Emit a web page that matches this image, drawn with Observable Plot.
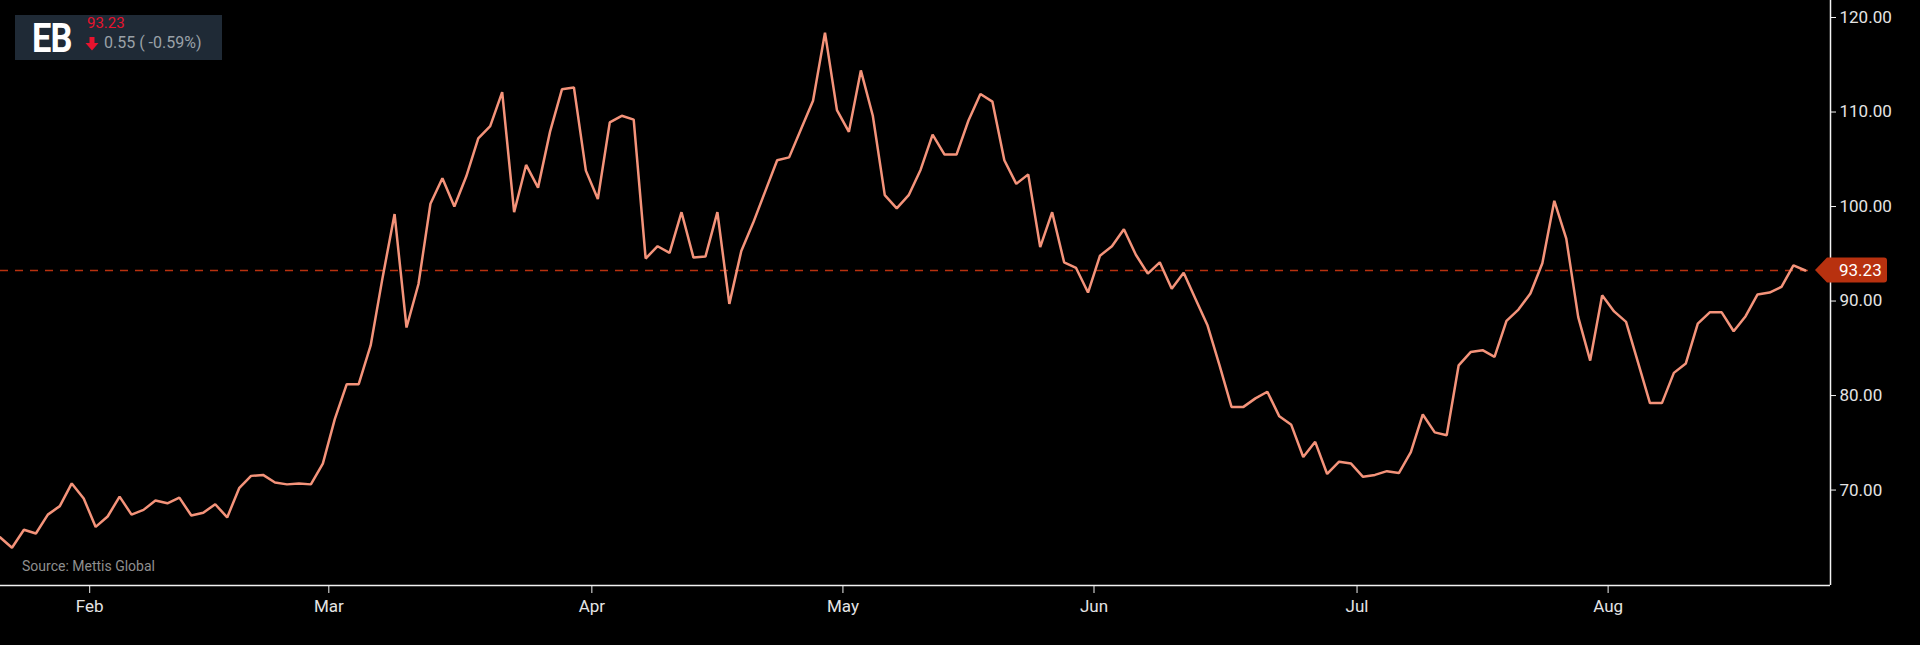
<!DOCTYPE html>
<html>
<head>
<meta charset="utf-8">
<script src="https://cdn.jsdelivr.net/npm/d3@7"></script>
<script src="https://cdn.jsdelivr.net/npm/@observablehq/plot@0.6"></script>
<style>
  html, body { margin: 0; padding: 0; background: #000; }
  #wrap { position: relative; width: 1920px; height: 645px; overflow: hidden; font-family: Roboto, sans-serif; }
  #hdr { position: absolute; left: 15px; top: 15px; width: 207px; height: 45px; background: #1f2a36; }
  #sym { position: absolute; left: 17px; top: -1px; font: 700 41px Roboto, sans-serif; color: #fff; transform: scaleX(0.84); transform-origin: left center; letter-spacing: -1px; }
  #px { position: absolute; left: 72px; top: -1px; font: 400 15px Roboto, sans-serif; color: #e8132e; }
  #chg { position: absolute; left: 89px; top: 18px; font: 400 16px Roboto, sans-serif; color: #9aa1a8; white-space: pre; }
  #arr { position: absolute; left: 70px; top: 22px; }
  #src { position: absolute; left: 22px; top: 558px; font: 400 14px Roboto, sans-serif; color: #8f8f8f; }
</style>
</head>
<body>
<div id="wrap">
  <div id="chart"></div>
  <div id="hdr">
    <div id="sym">EB</div>
    <div id="px"></div>
    <svg id="arr" width="14" height="14" viewBox="0 0 14 14"><path d="M4.5 0 H9.5 V6 H13.5 L7 13.5 L0.5 6 H4.5 Z" fill="#e8132e"/></svg>
    <div id="chg"></div>
  </div>
  <div id="src">Source: Mettis Global</div>
</div>
<script>
// ---- data ----
const symbol = "EB";
const lastPrice = 93.23;
const change = "0.55 ( -0.59%)";
const closes = [
  65.0, 63.9, 65.8, 65.4, 67.4, 68.3, 70.7, 69.1,
  66.1, 67.2, 69.3, 67.4, 67.9, 68.9, 68.6, 69.2, 67.3, 67.6, 68.5, 67.1,
  70.2, 71.5, 71.6, 70.8, 70.6, 70.7, 70.6, 72.8,
  77.5, 81.2, 81.2, 85.3, 92.5, 99.2, 87.2, 91.8, 100.3, 103.0, 100.0, 103.2,
  107.2, 108.5, 112.1, 99.4, 104.4, 102.0, 107.9, 112.4, 112.6, 103.8, 100.8, 108.9,
  109.6, 109.2, 94.5, 95.8, 95.1, 99.4, 94.6, 94.7, 99.4, 89.7, 95.3, 98.3,
  101.6, 104.9, 105.2, 108.2, 111.2, 118.4, 110.2, 107.9, 114.4, 109.6, 101.2, 99.8,
  101.2, 103.9, 107.6, 105.5, 105.5, 109.1, 111.9, 111.1, 104.9, 102.4, 103.4, 95.7,
  99.4, 94.1, 93.5, 90.9, 94.8, 95.8, 97.6, 94.9, 92.9, 94.1, 91.3, 93.0,
  90.2, 87.4, 83.2, 78.8, 78.8, 79.7, 80.4, 77.8, 76.9, 73.5, 75.1, 71.7,
  73.0, 72.8, 71.4, 71.6, 72.0, 71.8, 74.0, 78.0, 76.1, 75.8, 83.2, 84.6,
  84.8, 84.1, 87.9, 89.1, 90.8, 94.0, 100.6, 96.6, 88.3, 83.7, 90.6, 88.9,
  87.8, 83.5, 79.2, 79.2, 82.4, 83.4, 87.6, 88.8, 88.8, 86.8, 88.4, 90.7,
  90.9, 91.5, 93.78, 93.23
];
const monthStartIndex = [8, 28, 50, 71, 92, 114, 135];
const monthLabels = ["Feb", "Mar", "Apr", "May", "Jun", "Jul", "Aug"];
const yTicks = [70, 80, 90, 100, 110, 120];

// ---- build ----
document.getElementById("px").textContent = lastPrice.toFixed(2);
document.getElementById("chg").textContent = change;
document.getElementById("sym").textContent = symbol;

const rows = closes.map((v, i) => ({i, v}));
const monthTicks = monthStartIndex.map(d => d - 0.5);
const labelOf = new Map(monthTicks.map((t, k) => [t, monthLabels[k]]));
const xDomain = [0.04, 153.1];
const yDomain = [59.9, 121.8];
const axisColor = "#f2f2f2";
const accent = "#b8310f";

const plot = Plot.plot({
  width: 1920,
  height: 645,
  marginLeft: 0,
  marginRight: 90,
  marginTop: 0,
  marginBottom: 60,
  style: {background: "#000", color: "#e4e4e4", fontFamily: "Roboto, sans-serif", fontSize: "17px", overflow: "visible"},
  x: {domain: xDomain, axis: null},
  y: {domain: yDomain, axis: null},
  marks: [
    Plot.ruleY([lastPrice], {x1: xDomain[0], x2: 151.3, stroke: accent, strokeWidth: 1.4, strokeDasharray: "8,7"}),
    Plot.line(rows, {x: "i", y: "v", stroke: "#f4937a", strokeWidth: 2.5, strokeLinejoin: "miter", clip: true}),
    Plot.ruleY([yDomain[0]], {stroke: axisColor, strokeWidth: 1.5}),
    Plot.ruleX([xDomain[1]], {stroke: axisColor, strokeWidth: 1.5}),
    Plot.axisX(monthTicks, {label: null, tickFormat: d => labelOf.get(d), tickSize: 8, tickPadding: 6, stroke: axisColor, fill: "#e4e4e4"}),
    Plot.axisY(yTicks, {label: null, anchor: "right", tickFormat: d => d.toFixed(2), tickSize: 5, tickPadding: 4, stroke: axisColor, fill: "#e4e4e4"})
  ]
});
document.getElementById("chart").appendChild(plot);

// last-price tag on the right axis, positioned through the plot's own scales
const sx = plot.scale("x"), sy = plot.scale("y");
const ax = sx.apply(xDomain[1]);
const yc = sy.apply(lastPrice);
const svg = d3.select(plot);
const g = svg.append("g");
g.append("path")
  .attr("d", `M${ax - 15},${yc} L${ax - 3},${yc - 12.5} L${ax + 54},${yc - 12.5} Q${ax + 57},${yc - 12.5} ${ax + 57},${yc - 9.5} L${ax + 57},${yc + 9.5} Q${ax + 57},${yc + 12.5} ${ax + 54},${yc + 12.5} L${ax - 3},${yc + 12.5} Z`)
  .attr("fill", accent);
g.append("text")
  .attr("x", ax + 9).attr("y", yc).attr("dy", "0.35em")
  .attr("text-anchor", "start")
  .attr("fill", "#fff").attr("font-size", 17).attr("font-family", "Roboto, sans-serif")
  .text(lastPrice.toFixed(2));
</script>
</body>
</html>
